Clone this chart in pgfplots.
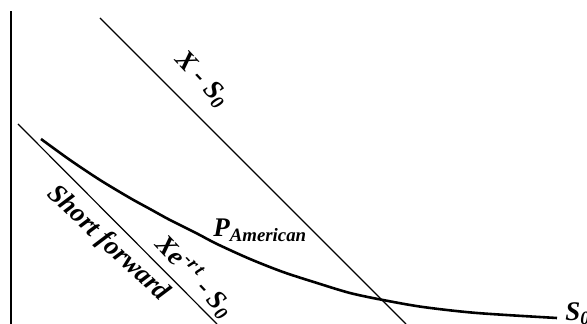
\documentclass[border=0pt]{standalone}
\usepackage{fontspec}
\setmainfont{Liberation Serif}
\usepackage{pgfplots}
\pgfplotsset{compat=1.18}

% pixel-like data units: x = distance from the vertical axis, y = height above the bottom edge
\pgfplotstableread{
x   y
30  185
59  164
89  144
119 126
139 115
159 104
185 91
206 80
239 65
272 52
306 41
339 31
372 24
412 17
466 11
546 6
}\american

\newcommand{\lbl}{\fontsize{13.5}{15}\selectfont\bfseries\itshape}

\begin{document}
\begin{tikzpicture}
\begin{axis}[
  scale only axis,
  width=293.5bp, height=162bp,
  xmin=-11, xmax=576,
  ymin=0, ymax=324,
  hide axis,
  clip=false,
]
% vertical axis
\addplot[black, line width=1.4pt] coordinates {(0,0) (0,313)};
% X - S0
\addplot[black, line width=0.6pt] coordinates {(89,306) (395,0)};
% short forward  X e^{-rt} - S0
\addplot[black, line width=0.6pt] coordinates {(7,200) (206,0)};
% American put
\addplot[black, line width=1.3pt, smooth] table[x=x, y=y] {\american};

\node[rotate=-47, font=\lbl] at (axis cs:191,244) {X - S\textsubscript{0}};
\node[rotate=-43, font=\lbl] at (axis cs:97,80) {Short forward};
\node[rotate=-47, font=\lbl] at (axis cs:184,47) {Xe\textsuperscript{-r\,t} - S\textsubscript{0}};
\node[anchor=base west, font=\lbl, inner sep=0pt] at (axis cs:202,87) {P\textsubscript{American}};
\node[anchor=base west, font=\lbl, inner sep=0pt] at (axis cs:554,4) {S\textsubscript{0}};
\end{axis}
\pgfresetboundingbox
\path (current axis.south west) rectangle (current axis.north east);
\end{tikzpicture}
\end{document}
